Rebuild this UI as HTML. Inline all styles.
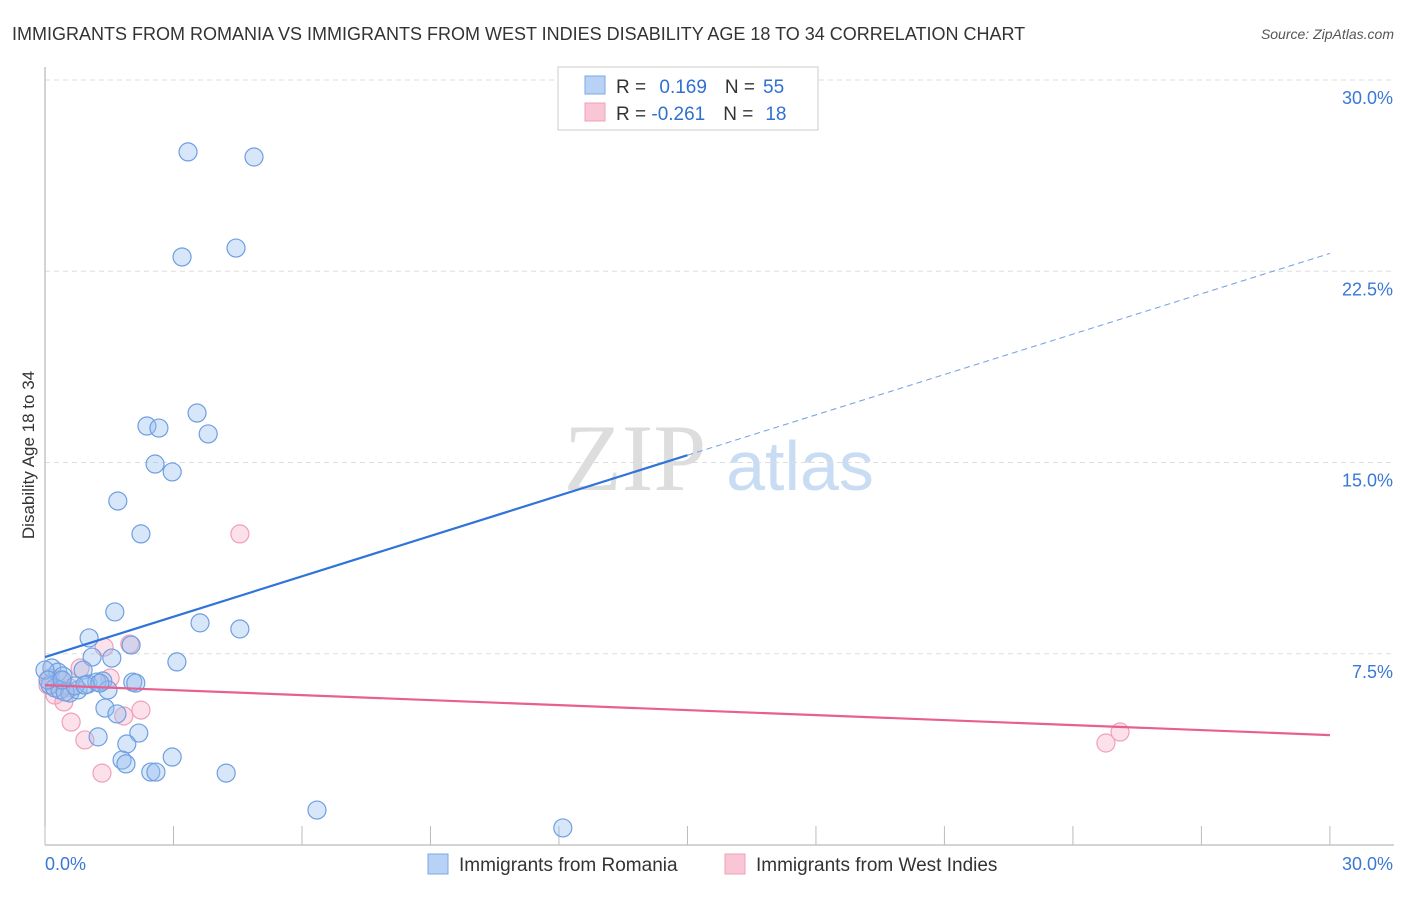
<!DOCTYPE html>
<html><head><meta charset="utf-8"><style>
body{margin:0;background:#fff;font-family:"Liberation Sans",sans-serif;}
</style></head><body>
<svg width="1406" height="892" xmlns="http://www.w3.org/2000/svg" font-family="Liberation Sans, sans-serif">
<text x="12" y="40" font-size="18" fill="#333">IMMIGRANTS FROM ROMANIA VS IMMIGRANTS FROM WEST INDIES DISABILITY AGE 18 TO 34 CORRELATION CHART</text>
<text x="1394" y="39" font-size="14" fill="#555" font-style="italic" text-anchor="end">Source: ZipAtlas.com</text>
<text x="635" y="490" font-size="95" fill="#ddd" font-family="Liberation Serif, serif" text-anchor="middle">ZIP</text>
<text x="800" y="490" font-size="70" fill="#c8dcf3" text-anchor="middle">atlas</text>
<g id="grid"></g>
<g id="axes"></g>
<g id="marks"></g>
<text transform="translate(34,455) rotate(-90)" font-size="17" fill="#333" text-anchor="middle">Disability Age 18 to 34</text>
<g>
<rect x="558" y="67" width="260" height="63" fill="#fff" stroke="#ccc"/>
<rect x="585" y="76" width="20" height="18" fill="#b7d2f5" stroke="#7aa8e6"/>
<rect x="585" y="103" width="20" height="18" fill="#f9c6d5" stroke="#f0a0b8"/>
<text x="616" y="93" font-size="19" fill="#333">R = <tspan fill="#3070d0" dx="8">0.169</tspan><tspan fill="#333" dx="18">N =</tspan><tspan fill="#3070d0" dx="8">55</tspan></text>
<text x="616" y="120" font-size="19" fill="#333">R = <tspan fill="#3070d0">-0.261</tspan><tspan fill="#333" dx="18">N =</tspan><tspan fill="#3070d0" dx="12">18</tspan></text>
</g>
<g>
<rect x="428" y="854" width="20" height="20" fill="#b7d2f5" stroke="#7aa8e6"/>
<text x="459" y="871" font-size="19" fill="#333">Immigrants from Romania</text>
<rect x="725" y="854" width="20" height="20" fill="#f9c6d5" stroke="#f0a0b8"/>
<text x="756" y="871" font-size="19" fill="#333">Immigrants from West Indies</text>
</g>
</svg>
<script>
const yTicks=[7.5,15,22.5,30];
const yTickLabels=["7.5%","15.0%","22.5%","30.0%"];
const xTicks=[0,3,6,9,12,15,18,21,24,27,30];
const romaniaX=[3.34,4.88,3.20,4.46,3.55,2.38,2.66,3.81,2.57,2.97,1.70,2.24,1.63,1.03,3.62,4.55,2.01,1.10,1.56,3.08,0.16,0.30,0.42,0.89,0.12,0.23,0.35,0.58,0.77,1.00,1.21,1.35,1.47,2.05,2.12,1.40,1.68,2.19,1.24,1.91,1.80,1.89,2.47,2.59,2.97,4.23,6.35,12.09,0,0.47,0.70,0.07,0.93,1.28,0.40];
const romaniaY=[27.18,26.98,23.06,23.41,16.94,16.43,16.35,16.12,14.94,14.63,13.49,12.20,9.14,8.12,8.71,8.47,7.84,7.37,7.33,7.18,6.94,6.78,6.63,6.86,6.27,6.16,6.08,5.96,6.08,6.31,6.39,6.43,6.08,6.39,6.35,5.37,5.14,4.39,4.24,3.96,3.33,3.18,2.86,2.86,3.45,2.82,1.37,0.67,6.86,6.00,6.24,6.47,6.27,6.35,6.47];
const indiesX=[4.55,1.98,1.38,0.82,1.52,0.35,0.58,0.12,0.23,0.44,0.61,2.24,1.84,0.93,1.33,24.77,25.10,0.07];
const indiesY=[12.20,7.88,7.76,6.94,6.55,6.47,6.16,6.55,5.88,5.61,4.82,5.29,5.06,4.12,2.82,4.00,4.43,6.27];
const romaniaTrend=[7.37,23.2];
const indiesTrend=[6.27,4.31];
const NS="http://www.w3.org/2000/svg";
const sx=v=>45+v*42.83, sy=v=>845-v*25.5;
function mk(t,a,p){const e=document.createElementNS(NS,t);for(const k in a)e.setAttribute(k,a[k]);p.appendChild(e);return e;}
const grid=document.getElementById('grid'),axes=document.getElementById('axes'),marks=document.getElementById('marks');
yTicks.forEach((v,i)=>{
 const l=mk('line',{x1:45,x2:1394,y1:sy(v),y2:sy(v),stroke:'#ddd','stroke-dasharray':'5,4'},grid);
 
 
 const t=mk('text',{x:1393,y:sy(v)+24,'font-size':18,fill:'#3a78d6','text-anchor':'end'},axes);
 t.textContent=yTickLabels[i];
 
 
});
let a=mk('line',{x1:45,x2:45,y1:67,y2:845,stroke:'#aaa'},axes);


a=mk('line',{x1:45,x2:1394,y1:845,y2:845,stroke:'#aaa'},axes);


xTicks.forEach(v=>{const l=mk('line',{x1:sx(v),x2:sx(v),y1:826,y2:845,stroke:'#bbb'},axes);
 
 });
let t=mk('text',{x:45,y:870,'font-size':18,fill:'#3a78d6'},axes);t.textContent='0.0%';


t=mk('text',{x:1393,y:870,'font-size':18,fill:'#3a78d6','text-anchor':'end'},axes);t.textContent='30.0%';


indiesX.forEach((x,i)=>{const c=mk('circle',{cx:sx(x),cy:sy(indiesY[i]),r:9,fill:'rgba(245,170,195,0.35)',stroke:'#f0a0b8','stroke-width':1.2},marks);
 
 });
romaniaX.forEach((x,i)=>{const c=mk('circle',{cx:sx(x),cy:sy(romaniaY[i]),r:9,fill:'rgba(150,190,240,0.38)',stroke:'#6f9fe0','stroke-width':1.2},marks);
 
 });
const mid=15;
const yAt=v=>romaniaTrend[0]+(romaniaTrend[1]-romaniaTrend[0])*v/30;
let L=mk('line',{x1:sx(0),y1:sy(romaniaTrend[0]),x2:sx(mid),y2:sy(yAt(mid)),stroke:'#2f74d8','stroke-width':2.2},marks);


L=mk('line',{x1:sx(mid),y1:sy(yAt(mid)),x2:sx(30),y2:sy(romaniaTrend[1]),stroke:'#6f9fe0','stroke-width':1,'stroke-dasharray':'6,4'},marks);


L=mk('line',{x1:sx(0),y1:sy(indiesTrend[0]),x2:sx(30),y2:sy(indiesTrend[1]),stroke:'#e8608e','stroke-width':2.2},marks);


</script>
</body></html>
